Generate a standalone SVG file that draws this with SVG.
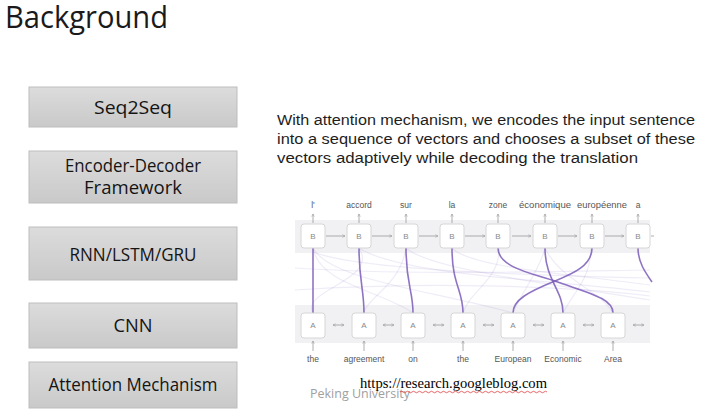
<svg xmlns="http://www.w3.org/2000/svg" width="709" height="416" viewBox="0 0 709 416">
<defs>
<linearGradient id="boxg" x1="0" y1="0" x2="0" y2="1">
<stop offset="0" stop-color="#dcdcdc"/>
<stop offset="1" stop-color="#c9c9c9"/>
</linearGradient>
<marker id="ah" viewBox="0 0 6 6" refX="5" refY="3" markerWidth="4" markerHeight="4" orient="auto-start-reverse">
<path d="M0,0.5 L5,3 L0,5.5" fill="none" stroke="#9a9a9a" stroke-width="1"/>
</marker>
<style>
.box rect{fill:url(#boxg);stroke:#bdbdbd;stroke-width:1}
.bt{font-family:"Open Sans","Noto Sans",sans-serif;font-size:17.5px;fill:#141414;text-anchor:middle}
.para{font-family:"Liberation Sans",Arial,sans-serif;font-size:15.5px;fill:#1e1e1e}
.cell{fill:#ffffff;stroke:#d6d6d6;stroke-width:1}
.cl{font-family:"Liberation Sans",Arial,sans-serif;font-size:8px;fill:#8a8a8a;text-anchor:middle}
.wl{font-family:"Liberation Sans",Arial,sans-serif;font-size:8.5px;fill:#555;text-anchor:middle}
.ar{stroke:#9a9a9a;stroke-width:0.8;fill:none}
.att{stroke:#7a5cb8;stroke-width:1.6;fill:none;opacity:0.85}
.faint{stroke:#9b86cf;stroke-width:1.2;fill:none;opacity:0.16}
</style>
</defs>
<rect width="709" height="416" fill="#ffffff"/>
<text x="5" y="28" font-family="'Open Sans','Noto Sans',sans-serif" font-size="31" fill="#1a1a1a" textLength="163" lengthAdjust="spacingAndGlyphs">Background</text>

<g id="seq2seq" class="box"><rect x="29" y="87" width="208" height="40"/><text class="bt" x="133" y="114" textLength="78" lengthAdjust="spacingAndGlyphs">Seq2Seq</text></g>
<g id="encdec" class="box"><rect x="29" y="151" width="208" height="52"/><text class="bt" x="133" y="172" textLength="136" lengthAdjust="spacingAndGlyphs">Encoder-Decoder</text><text class="bt" x="133" y="194" textLength="98" lengthAdjust="spacingAndGlyphs">Framework</text></g>
<g id="rnn" class="box"><rect x="29" y="227" width="208" height="53"/><text class="bt" x="133" y="261" textLength="127" lengthAdjust="spacingAndGlyphs">RNN/LSTM/GRU</text></g>
<g id="cnn" class="box"><rect x="29" y="303" width="208" height="45"/><text class="bt" x="133" y="332" textLength="39" lengthAdjust="spacingAndGlyphs">CNN</text></g>
<g id="attention" class="box"><rect x="29" y="362" width="208" height="46"/><text class="bt" x="133" y="391" textLength="169" lengthAdjust="spacingAndGlyphs">Attention Mechanism</text></g>

<g id="description">
<text class="para" x="277" y="125" textLength="418" lengthAdjust="spacingAndGlyphs">With attention mechanism, we encodes the input sentence</text>
<text class="para" x="277" y="144" textLength="418" lengthAdjust="spacingAndGlyphs">into a sequence of vectors and chooses a subset of these</text>
<text class="para" x="277" y="163" textLength="361" lengthAdjust="spacingAndGlyphs">vectors adaptively while decoding the translation</text>
</g>

<g id="figure">
<rect x="295" y="220" width="355" height="33" fill="#f1f1f4"/>
<rect x="295" y="305" width="355" height="38" fill="#f1f1f4"/>
<g id="faint-links">
<path class="faint" d="M313,248 C320,285 380,290 413,313"/>
<path class="faint" d="M313,248 C330,280 430,290 513,313"/>
<path class="faint" d="M359,248 C380,280 300,290 313,313"/>
<path class="faint" d="M406,248 C430,270 560,285 650,300"/>
<path class="faint" d="M452,248 C470,268 580,275 650,285"/>
<path class="faint" d="M359,248 C400,275 550,280 650,292"/>
<path class="faint" d="M313,252 C360,270 520,275 650,278"/>
<path class="faint" d="M406,248 C400,285 370,295 363,313"/>
<path class="faint" d="M295,268 C400,275 520,272 650,270"/>
<path class="faint" d="M295,290 C420,282 560,285 650,296"/>
<path class="faint" d="M545,248 C560,280 600,290 613,313"/>
<path class="faint" d="M591,248 C590,280 575,290 563,313"/>
<path class="faint" d="M545,248 C540,270 520,295 513,313"/>
<path class="faint" d="M499,248 C500,280 470,290 463,313"/>
</g>
<g id="connectors">
<path class="att" d="M313,248 L313,313"/>
<path class="att" d="M359,248 C359,280 364,290 364,313"/>
<path class="att" d="M406,248 C406,285 413,290 413,313"/>
<path class="att" d="M452,248 C452,285 463,290 463,313"/>
<path class="att" d="M498,248 C498,268 535,274 555,281 C588,293 613,298 613,313"/>
<path class="att" d="M545,248 C545,280 563,290 563,313"/>
<path class="att" d="M592,248 C592,266 572,274 555,281 C528,292 513,300 513,313"/>
<path class="att" d="M638,248 C638,262 645,272 652,282"/>
<g id="b-arrows">
<line class="ar" x1="326" y1="236" x2="345" y2="236" marker-end="url(#ah)"/>
<line class="ar" x1="372" y1="236" x2="392" y2="236" marker-end="url(#ah)"/>
<line class="ar" x1="419" y1="236" x2="438" y2="236" marker-end="url(#ah)"/>
<line class="ar" x1="465" y1="236" x2="485" y2="236" marker-end="url(#ah)"/>
<line class="ar" x1="512" y1="236" x2="531" y2="236" marker-end="url(#ah)"/>
<line class="ar" x1="558" y1="236" x2="577" y2="236" marker-end="url(#ah)"/>
<line class="ar" x1="605" y1="236" x2="624" y2="236" marker-end="url(#ah)"/>
<line class="ar" x1="651" y1="236" x2="654" y2="236"/>
</g>
<g id="a-arrows">
<line class="ar" x1="333" y1="325" x2="344" y2="325" marker-start="url(#ah)" marker-end="url(#ah)"/>
<line class="ar" x1="383" y1="325" x2="394" y2="325" marker-start="url(#ah)" marker-end="url(#ah)"/>
<line class="ar" x1="433" y1="325" x2="444" y2="325" marker-start="url(#ah)" marker-end="url(#ah)"/>
<line class="ar" x1="483" y1="325" x2="494" y2="325" marker-start="url(#ah)" marker-end="url(#ah)"/>
<line class="ar" x1="533" y1="325" x2="544" y2="325" marker-start="url(#ah)" marker-end="url(#ah)"/>
<line class="ar" x1="583" y1="325" x2="594" y2="325" marker-start="url(#ah)" marker-end="url(#ah)"/>
<line class="ar" x1="633" y1="325" x2="644" y2="325" marker-start="url(#ah)" marker-end="url(#ah)"/>
</g>
<g id="label-arrows">
<line class="ar" x1="313" y1="223" x2="313" y2="214" marker-end="url(#ah)"/>
<line class="ar" x1="359" y1="223" x2="359" y2="214" marker-end="url(#ah)"/>
<line class="ar" x1="406" y1="223" x2="406" y2="214" marker-end="url(#ah)"/>
<line class="ar" x1="452" y1="223" x2="452" y2="214" marker-end="url(#ah)"/>
<line class="ar" x1="498" y1="223" x2="498" y2="214" marker-end="url(#ah)"/>
<line class="ar" x1="545" y1="223" x2="545" y2="214" marker-end="url(#ah)"/>
<line class="ar" x1="592" y1="223" x2="592" y2="214" marker-end="url(#ah)"/>
<line class="ar" x1="638" y1="223" x2="638" y2="214" marker-end="url(#ah)"/>
<line class="ar" x1="313" y1="351" x2="313" y2="341" marker-end="url(#ah)"/>
<line class="ar" x1="364" y1="351" x2="364" y2="341" marker-end="url(#ah)"/>
<line class="ar" x1="413" y1="351" x2="413" y2="341" marker-end="url(#ah)"/>
<line class="ar" x1="463" y1="351" x2="463" y2="341" marker-end="url(#ah)"/>
<line class="ar" x1="513" y1="351" x2="513" y2="341" marker-end="url(#ah)"/>
<line class="ar" x1="563" y1="351" x2="563" y2="341" marker-end="url(#ah)"/>
<line class="ar" x1="613" y1="351" x2="613" y2="341" marker-end="url(#ah)"/>
</g>
</g>
<g id="b1"><rect class="cell" x="301" y="224" width="24" height="24" rx="3"/><text class="cl" x="313" y="239">B</text></g>
<g id="b2"><rect class="cell" x="347" y="224" width="24" height="24" rx="3"/><text class="cl" x="359" y="239">B</text></g>
<g id="b3"><rect class="cell" x="394" y="224" width="24" height="24" rx="3"/><text class="cl" x="406" y="239">B</text></g>
<g id="b4"><rect class="cell" x="440" y="224" width="24" height="24" rx="3"/><text class="cl" x="452" y="239">B</text></g>
<g id="b5"><rect class="cell" x="486" y="224" width="24" height="24" rx="3"/><text class="cl" x="498" y="239">B</text></g>
<g id="b6"><rect class="cell" x="533" y="224" width="24" height="24" rx="3"/><text class="cl" x="545" y="239">B</text></g>
<g id="b7"><rect class="cell" x="580" y="224" width="24" height="24" rx="3"/><text class="cl" x="592" y="239">B</text></g>
<g id="b8"><rect class="cell" x="626" y="224" width="24" height="24" rx="3"/><text class="cl" x="638" y="239">B</text></g>
<g id="a1"><rect class="cell" x="301" y="313" width="24" height="25" rx="3"/><text class="cl" x="313" y="328">A</text></g>
<g id="a2"><rect class="cell" x="352" y="313" width="24" height="25" rx="3"/><text class="cl" x="364" y="328">A</text></g>
<g id="a3"><rect class="cell" x="401" y="313" width="24" height="25" rx="3"/><text class="cl" x="413" y="328">A</text></g>
<g id="a4"><rect class="cell" x="451" y="313" width="24" height="25" rx="3"/><text class="cl" x="463" y="328">A</text></g>
<g id="a5"><rect class="cell" x="501" y="313" width="24" height="25" rx="3"/><text class="cl" x="513" y="328">A</text></g>
<g id="a6"><rect class="cell" x="551" y="313" width="24" height="25" rx="3"/><text class="cl" x="563" y="328">A</text></g>
<g id="a7"><rect class="cell" x="601" y="313" width="24" height="25" rx="3"/><text class="cl" x="613" y="328">A</text></g>
<g id="top-labels">
<text class="wl" x="313" y="208">l'</text>
<text class="wl" x="359" y="208">accord</text>
<text class="wl" x="406" y="208">sur</text>
<text class="wl" x="452" y="208">la</text>
<text class="wl" x="498" y="208">zone</text>
<text class="wl" x="545" y="208" textLength="52" lengthAdjust="spacingAndGlyphs">économique</text>
<text class="wl" x="602" y="208" textLength="50" lengthAdjust="spacingAndGlyphs">européenne</text>
<text class="wl" x="638" y="208">a</text>
</g>
<g id="bottom-labels">
<text class="wl" x="313" y="362">the</text>
<text class="wl" x="364" y="362">agreement</text>
<text class="wl" x="413" y="362">on</text>
<text class="wl" x="463" y="362">the</text>
<text class="wl" x="513" y="362">European</text>
<text class="wl" x="563" y="362">Economic</text>
<text class="wl" x="613" y="362">Area</text>
</g>
</g>

<text x="310" y="398" font-family="'Open Sans','Noto Sans',sans-serif" font-size="13" fill="#a0a0a0" textLength="100" lengthAdjust="spacingAndGlyphs">Peking University</text>
<text x="360" y="388" font-family="'Liberation Serif','Times New Roman',serif" font-size="15" fill="#000" textLength="187" lengthAdjust="spacingAndGlyphs">https://research.googleblog.com</text>
<path d="M400,392 q1.5,-1.5 3,0 t3,0 t3,0 t3,0 t3,0 t3,0 t3,0 t3,0 t3,0 t3,0 t3,0 t3,0 t3,0 t3,0 t3,0 t3,0 t3,0 t3,0 t3,0 t3,0 t3,0 t3,0 t3,0 t3,0 t3,0 t3,0 t3,0 t3,0 t3,0 t3,0 t3,0 t3,0 t3,0 t3,0 t3,0 t3,0 t3,0 t3,0 t3,0 t3,0 t3,0 t3,0 t3,0 t3,0 t3,0 t3,0 t3,0 t3,0 t3,0" fill="none" stroke="#e04040" stroke-width="0.8"/>
</svg>
